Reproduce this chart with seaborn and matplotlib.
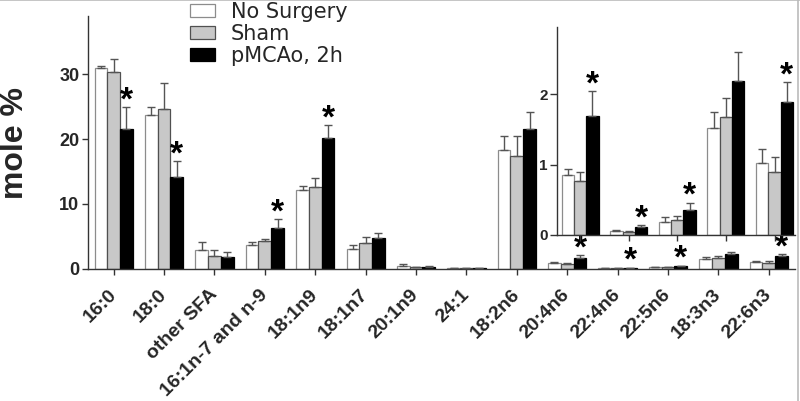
import matplotlib
matplotlib.use("Agg")
import matplotlib.pyplot as plt
import matplotlib.patches as mpatches
from matplotlib.lines import Line2D
from matplotlib.container import BarContainer
import numpy as np
import pandas as pd
import seaborn as sns

categories = ["16:0", "18:0", "other SFA", "16:1n-7 and n-9", "18:1n9", "18:1n7",
              "20:1n9", "24:1", "18:2n6", "20:4n6", "22:4n6", "22:5n6", "18:3n3", "22:6n3"]
groups = ["No Surgery", "Sham", "pMCAo, 2h"]

no_surgery = [31.0, 23.7, 2.85, 3.6, 12.1, 3.0, 0.38, 0.05, 18.3, 0.85, 0.06, 0.19, 1.52, 1.02]
no_surgery_err = [0.3, 1.2, 1.25, 0.5, 0.7, 0.7, 0.27, 0.0, 2.2, 0.08, 0.01, 0.06, 0.22, 0.20]
sham = [30.4, 24.7, 2.0, 4.25, 12.6, 3.9, 0.2, 0.04, 17.3, 0.76, 0.04, 0.21, 1.67, 0.89]
sham_err = [2.0, 3.9, 0.86, 0.35, 1.4, 1.0, 0.05, 0.0, 3.2, 0.14, 0.01, 0.06, 0.28, 0.22]
pmcao = [21.5, 14.2, 1.73, 6.3, 20.2, 4.75, 0.3, 0.05, 21.5, 1.69, 0.11, 0.35, 2.19, 1.88]
pmcao_err = [3.4, 2.4, 0.82, 1.3, 1.9, 0.75, 0.12, 0.0, 2.7, 0.35, 0.03, 0.11, 0.41, 0.29]
significant = [1, 1, 0, 1, 1, 0, 0, 0, 0, 1, 1, 1, 0, 1]
inset_categories = ["20:4n6", "22:4n6", "22:5n6", "18:3n3", "22:6n3"]

y_ticks = [0, 10, 20, 30]
inset_y_ticks = [0, 1, 2]

sns.set_style("ticks")
plt.rcParams["font.family"] = ["Liberation Sans", "DejaVu Sans"]

values = {"No Surgery": no_surgery, "Sham": sham, "pMCAo, 2h": pmcao}
errors = {"No Surgery": no_surgery_err, "Sham": sham_err, "pMCAo, 2h": pmcao_err}
rows = []
for g in groups:
    for c, v, e in zip(categories, values[g], errors[g]):
        rows.append({"cat": c, "group": g, "val": v, "err": e})
df = pd.DataFrame(rows)

faces = ["#ffffff", "#c8c8c8", "#000000"]
edges = ["#8c8c8c", "#505050", "#000000"]
spine_col = "#333333"
err_col = "#555555"

fig = plt.figure(figsize=(8, 4.01), dpi=100)
ax = fig.add_axes([88 / 800, (401 - 268.5) / 401, (795 - 88) / 800, (268.5 - 16) / 401])
axi = fig.add_axes([556.7 / 800, (401 - 235) / 401, (795 - 556.7) / 800, (235 - 26.7) / 401])


def draw(axx, data, cats, ast_size):
    sns.barplot(data=data, x="cat", y="val", hue="group", order=cats, hue_order=groups,
                palette=faces, width=0.76, errorbar=None, legend=False, ax=axx,
                linewidth=0.9, saturation=1)
    bar_conts = [c for c in axx.containers if isinstance(c, BarContainer)]
    for gi, cont in enumerate(bar_conts):
        g = groups[gi]
        sub = data[data.group == g].set_index("cat").loc[cats]
        xs, tops = [], []
        for p in cont.patches:
            p.set_facecolor(faces[gi])
            p.set_edgecolor(edges[gi])
            xs.append(p.get_x() + p.get_width() / 2)
            tops.append(p.get_height())
        errs = sub["err"].values
        axx.errorbar(xs, tops, yerr=[np.zeros(len(errs)), errs], fmt="none",
                     ecolor=err_col, elinewidth=1.0, capsize=2.6, capthick=1.0, zorder=3)
        if g == "pMCAo, 2h":
            for x, t, e, c in zip(xs, tops, errs, cats):
                if significant[categories.index(c)]:
                    axx.annotate("*", (x, t + e), xytext=(0, -1.5), textcoords="offset points",
                                 ha="center", va="baseline", fontsize=ast_size,
                                 fontweight="bold", color="black", zorder=4)


draw(ax, df, categories, 24)
ax.set_xlim(-0.51, 13.52)
ax.set_ylim(0, 39)
ax.set_yticks(y_ticks)
ax.set_xlabel("")
ax.set_ylabel("")
ax.set_xticks(range(len(categories)))
ax.set_xticklabels(categories, rotation=45, ha="right", va="center",
                   rotation_mode="anchor", fontsize=14, fontweight="bold")
ax.tick_params(axis="x", length=4, width=1.0, color=spine_col, pad=13)
ax.tick_params(axis="y", length=4.2, width=1.0, color=spine_col, pad=2, labelsize=13)
for lab in ax.get_yticklabels():
    lab.set_fontweight("bold")
sns.despine(ax=ax)
for s in ["left", "bottom"]:
    ax.spines[s].set_color(spine_col)
    ax.spines[s].set_linewidth(1.0)
ax.set_facecolor("none")

dfi = df[df.cat.isin(inset_categories)]
draw(axi, dfi, inset_categories, 24)
axi.set_xlim(-0.48, 4.42)
axi.set_ylim(0, 2.955)
axi.set_yticks(inset_y_ticks)
axi.set_xticks(range(len(inset_categories)))
axi.set_xticklabels([])
axi.set_xlabel("")
axi.set_ylabel("")
axi.tick_params(axis="x", length=4, width=1.0, color=spine_col)
axi.tick_params(axis="y", length=5, width=1.0, color=spine_col, pad=1.5, labelsize=11)
for lab in axi.get_yticklabels():
    lab.set_fontweight("bold")
sns.despine(ax=axi)
for s in ["left", "bottom"]:
    axi.spines[s].set_color(spine_col)
    axi.spines[s].set_linewidth(1.0)
axi.set_facecolor("white")

fig.text(15 / 800, (401 - 143) / 401, "mole %", rotation=90, ha="center", va="center",
         fontsize=23, fontweight="bold")

handles = [mpatches.Patch(facecolor=faces[i], edgecolor=edges[i], linewidth=0.9, label=groups[i])
           for i in range(3)]
fig.legend(handles=handles, loc="upper left", bbox_to_anchor=(190 / 800, 0.996),
           frameon=False, prop={"family": ["DejaVu Sans"], "size": 15},
           handlelength=1.2, handleheight=0.6, handletextpad=0.75,
           labelspacing=0.1, borderpad=0, borderaxespad=0)

fig.add_artist(Line2D([0, 1], [0.999, 0.999], color="#bbbbbb", lw=1.2, transform=fig.transFigure))
fig.add_artist(Line2D([0.998, 0.998], [0, 1], color="#bbbbbb", lw=1.2, transform=fig.transFigure))

fig.savefig("out.png", dpi=100)
